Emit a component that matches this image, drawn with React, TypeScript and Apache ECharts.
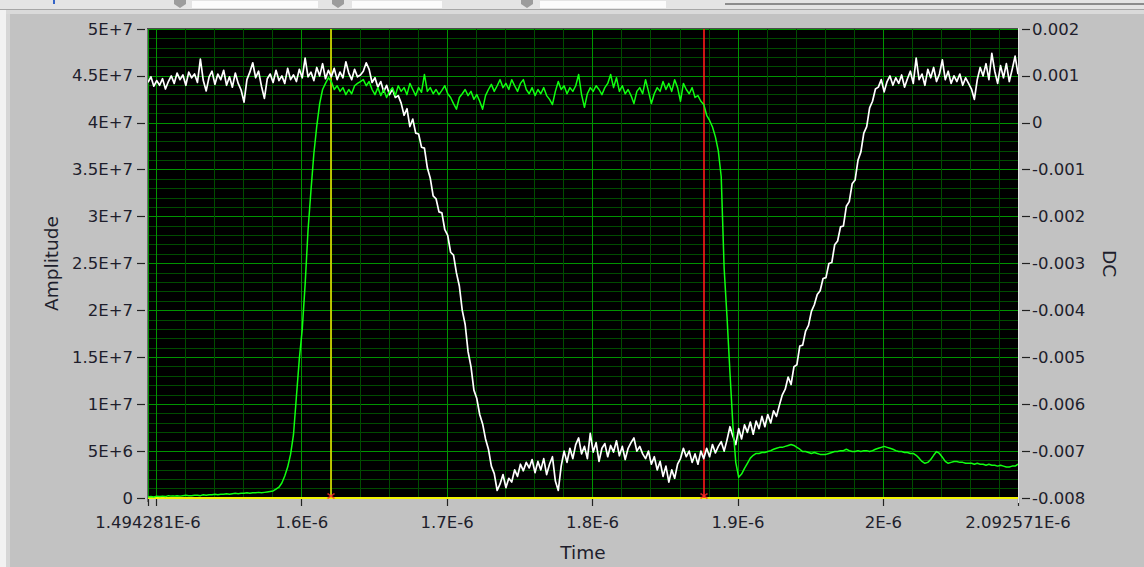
import { useEffect, useRef } from "react";
import * as echarts from "echarts";

// Waveform timing (seconds): first sample and sample spacing
const T0 = 1.494281e-6;
const DT = 2.001e-9;

// Visible time window
const TIME_MIN = 1.494281e-6;
const TIME_MAX = 2.092571e-6;

// Time scale: tick positions and labelled positions
const timeTicks = [1.494281e-6, 1.5e-6, 1.6e-6, 1.7e-6, 1.8e-6, 1.9e-6, 2e-6, 2.092571e-6];
const timeLabels = [1.494281e-6, 1.6e-6, 1.7e-6, 1.8e-6, 1.9e-6, 2e-6, 2.092571e-6];

// Amplitude trace, in units of 1E+6
const AMP_UNIT = 1e6;
const amplitude = [
  44.3, 44.9, 43.9, 44.5, 44.0, 44.7, 43.6, 44.4, 45.0, 44.2,
  45.3, 44.6, 45.1, 44.0, 45.4, 44.8, 45.2, 44.3, 46.8, 44.5,
  43.4, 44.9, 45.5, 44.1, 45.2, 44.6, 45.6, 44.0, 44.9, 43.8,
  45.3, 44.2, 43.5, 42.2, 44.6, 45.4, 46.4, 44.8, 45.5, 43.9,
  42.6, 44.7, 45.2, 44.3, 45.6, 44.5, 45.0, 44.2, 45.8, 44.6,
  45.1, 44.4, 45.7, 44.8, 46.9, 44.9, 45.4, 44.5, 45.9, 45.0,
  46.3, 44.7, 45.6, 44.9, 45.8, 44.6, 45.4, 44.8, 46.5, 45.3,
  44.6, 45.7, 44.9,
  45.1, 45.5, 46.4, 45.7, 44.3, 44.8, 43.8, 44.4, 43.3, 44.0,
  43.0, 43.6, 42.7, 42.9, 42.1, 40.8, 41.5, 39.6, 40.4, 38.9,
  38.8, 37.4, 37.3, 35.2, 34.1, 32.2, 31.9, 30.5, 30.4, 28.6,
  28.0, 26.2, 25.9, 24.0, 22.6, 20.0, 18.5, 15.6, 14.0, 11.5,
  10.6, 8.9, 7.9, 6.3, 5.2, 3.4, 2.6, 0.8,
  1.5, 2.5, 1.1, 2.1, 1.7, 3.0, 2.3, 3.6, 2.9, 3.8,
  3.2, 4.1, 2.7, 3.9, 3.0, 4.2, 2.5, 3.6, 4.4, 1.8,
  0.8, 3.4, 5.0, 3.8, 5.3, 4.2, 5.7, 6.4, 4.7, 5.5,
  4.2, 6.9, 4.9, 5.9, 3.9, 5.3, 5.8, 4.4, 5.6, 4.9,
  6.1, 4.5, 5.5, 4.1, 5.3, 5.9, 6.4, 5.0, 5.5, 4.7,
  4.2, 5.0, 3.6, 4.4, 3.0, 3.9, 2.3, 3.4, 1.7, 3.0,
  2.1, 3.6, 4.2, 5.3, 4.4, 5.0, 3.8, 4.7, 3.6, 5.0,
  4.2, 5.3, 4.4, 5.7, 4.8, 5.5, 6.0, 5.0, 6.2, 7.6,
  6.6, 5.7, 7.4, 6.3, 7.8, 7.0, 8.1, 6.8, 8.2, 7.4,
  8.7, 7.6, 8.9, 8.0, 9.3, 8.7, 9.9, 11.0, 11.6, 12.9,
  12.1, 14.0, 14.2, 16.2, 16.3, 17.8, 18.4, 19.9, 20.6, 21.7,
  22.1, 23.4, 23.5, 25.0, 25.1, 27.0, 27.4, 28.9, 29.0, 31.1,
  31.6, 33.5, 33.9, 36.0, 36.9, 38.9, 39.6, 41.6, 42.3, 43.6,
  43.8, 44.6, 43.3, 44.4, 45.0, 44.0, 44.8, 44.2, 45.1, 43.8,
  44.7, 45.5, 44.2, 46.9, 44.6, 45.2, 44.0, 45.7, 44.8, 45.9,
  44.4, 45.2, 46.7, 44.6, 45.5, 44.2, 45.0, 44.4, 45.2, 44.0,
  44.8, 44.2, 43.6, 42.5, 44.6, 45.9, 45.0, 46.3, 44.6, 47.4,
  45.5, 44.2, 46.1, 44.8, 46.3, 44.4, 45.7, 47.1, 45.2,
];

// DC trace, in millivolts
const DC_UNIT = 1e-3;
const dc = [
  -7.98, -7.97, -7.98, -7.96, -7.97, -7.96, -7.97, -7.95, -7.96, -7.96,
  -7.95, -7.96, -7.95, -7.94, -7.95, -7.95, -7.94, -7.94, -7.95, -7.93,
  -7.94, -7.93, -7.93, -7.92, -7.93, -7.92, -7.92, -7.91, -7.92, -7.91,
  -7.90, -7.91, -7.90, -7.90, -7.89, -7.90, -7.89, -7.89, -7.88, -7.89,
  -7.88, -7.87, -7.86,
  -7.85, -7.81, -7.77, -7.68, -7.53, -7.34, -7.07, -6.65, -5.84, -5.04,
  -4.41, -3.45, -2.29, -1.45, -0.66, -0.07, 0.41, 0.71, 0.84, 0.96,
  0.88, 0.71, 0.79,
  0.67, 0.75, 0.60, 0.71, 0.62, 0.79, 0.84, 0.88, 0.92, 0.79,
  0.88, 0.71, 0.60, 0.75, 0.58, 0.71, 0.54, 0.67, 0.75, 0.58,
  0.79, 0.67, 0.75, 0.60, 0.84, 0.71, 0.58, 0.75, 0.65, 1.03,
  0.67, 0.75, 0.62, 0.71, 0.60, 0.69, 0.79, 0.62, 0.54, 0.41,
  0.29, 0.54, 0.62, 0.71, 0.58, 0.67, 0.50, 0.60, 0.46, 0.29,
  0.58, 0.71, 0.82, 0.67, 0.79, 0.92, 0.75, 0.84, 0.71, 0.92,
  0.79, 0.67, 0.84, 0.92, 0.71, 0.62, 0.75, 0.58, 0.71, 0.62,
  0.75, 0.58, 0.50, 0.39, 0.67, 0.88, 0.71, 0.79, 0.62, 0.75,
  0.67, 0.79, 1.03, 0.60, 0.33, 0.62, 0.75, 0.67, 0.79, 0.71,
  0.60, 0.75, 0.84, 1.03, 0.75, 0.96, 0.67, 0.79, 0.62, 0.71,
  0.58, 0.41, 0.67, 0.75, 0.62, 0.92, 0.67, 0.41, 0.62, 0.75,
  0.67, 0.88, 0.71, 0.84, 0.67, 0.92, 0.75, 0.46, 0.84, 0.71,
  0.62, 0.75, 0.54, 0.58, 0.46, 0.39,
  0.16, 0.05, -0.09, -0.30, -0.60, -1.15, -3.10, -4.15, -5.32, -6.44,
  -7.24, -7.56, -7.49, -7.37, -7.26, -7.15, -7.09, -7.05, -7.05, -7.03,
  -7.03, -7.01, -6.99, -6.96, -6.94, -6.92, -6.92, -6.90, -6.88, -6.86,
  -6.88, -6.92, -6.96, -7.01, -7.01, -7.03, -7.05, -7.03, -7.05, -7.07,
  -7.07, -7.07, -7.05, -7.03, -7.01, -7.01, -6.99, -6.99, -6.96, -6.99,
  -7.01, -7.01, -6.99, -7.01, -6.99, -6.99, -7.01, -6.99, -6.96, -6.94,
  -6.92, -6.90, -6.92, -6.94, -6.96, -6.99, -7.01, -7.01, -7.03, -7.03,
  -7.05, -7.05, -7.09, -7.15, -7.22, -7.26, -7.24, -7.18, -7.09, -7.01,
  -7.05, -7.13, -7.22, -7.26, -7.24, -7.22, -7.22, -7.24, -7.24, -7.26,
  -7.26, -7.26, -7.28, -7.26, -7.28, -7.28, -7.30, -7.28, -7.30, -7.30,
  -7.32, -7.30, -7.32, -7.34, -7.34, -7.32, -7.32, -7.28,
];

// Cursor positions (seconds)
const cursorYellow = 1.62013e-6;
const cursorRed = 1.87664e-6;

const FONT = "DejaVu Sans";
const TEXT = "#1e1e2c";
const GRID_MAJOR = "#009400";
const GRID_MINOR = "#004c00";

const sci = (v: number) => (v === 0 ? "0" : v.toExponential().toUpperCase());
const plain = (v: number) => {
  const r = Math.round(v * 1e6) / 1e6;
  return r === 0 ? "0" : String(r);
};

export default function App() {
  const ref = useRef<HTMLDivElement>(null);

  useEffect(() => {
    if (!ref.current) return;
    const chart = echarts.init(ref.current, undefined, { renderer: "svg" });

    const ampData = amplitude.map((v, i) => [T0 + i * DT, v * AMP_UNIT]);
    const dcData = dc.map((v, i) => [T0 + i * DT, v * DC_UNIT]);

    const labelStyle = { color: TEXT, fontFamily: FONT, fontSize: 16.5 };
    const nameStyle = { color: TEXT, fontFamily: FONT, fontSize: 18.5 };

    chart.setOption({
      animation: false,
      backgroundColor: "#c2c2c2",
      textStyle: { fontFamily: FONT },
      grid: {
        left: 148,
        top: 29,
        right: 126,
        bottom: 65,
        show: true,
        backgroundColor: "#000000",
        borderWidth: 0,
      },
      xAxis: {
        type: "value",
        min: TIME_MIN,
        max: TIME_MAX,
        offset: 6,
        name: "Time",
        nameLocation: "middle",
        nameGap: 39,
        nameTextStyle: nameStyle,
        axisLine: { show: false },
        axisTick: {
          show: true,
          length: 8,
          customValues: timeTicks,
          lineStyle: { color: "#222", width: 1.2 },
        },
        axisLabel: {
          ...labelStyle,
          margin: 10,
          customValues: timeLabels,
          showMinLabel: true,
          showMaxLabel: true,
          formatter: (v: number) => sci(v),
        },
        splitLine: { show: true, lineStyle: { color: GRID_MAJOR, width: 1 } },
        minorTick: { show: false, splitNumber: 5 },
        minorSplitLine: { show: true, lineStyle: { color: GRID_MINOR, width: 1 } },
      },
      yAxis: [
        {
          type: "value",
          min: 0,
          max: 5e7,
          interval: 5e6,
          position: "left",
          offset: 3,
          name: "Amplitude",
          nameLocation: "middle",
          nameRotate: 90,
          nameGap: 80,
          nameTextStyle: nameStyle,
          axisLine: { show: false },
          axisTick: { show: true, length: 8, lineStyle: { color: "#222", width: 1.2 } },
          axisLabel: { ...labelStyle, margin: 12, formatter: (v: number) => sci(v) },
          splitLine: { show: true, lineStyle: { color: GRID_MAJOR, width: 1 } },
          minorTick: { show: false, splitNumber: 5 },
          minorSplitLine: { show: true, lineStyle: { color: GRID_MINOR, width: 1 } },
        },
        {
          type: "value",
          min: -0.008,
          max: 0.002,
          interval: 0.001,
          position: "right",
          offset: 4,
          name: "DC",
          nameLocation: "middle",
          nameRotate: -90,
          nameGap: 78,
          nameTextStyle: nameStyle,
          axisLine: { show: false },
          axisTick: { show: true, length: 8, lineStyle: { color: "#222", width: 1.2 } },
          axisLabel: { ...labelStyle, margin: 10, formatter: (v: number) => plain(v) },
          splitLine: { show: false },
        },
      ],
      series: [
        {
          name: "Amplitude",
          type: "line",
          yAxisIndex: 0,
          data: ampData,
          showSymbol: false,
          symbol: "none",
          z: 3,
          lineStyle: { color: "#ffffff", width: 1.7, join: "round" },
        },
        {
          name: "DC",
          type: "line",
          yAxisIndex: 1,
          data: dcData,
          showSymbol: false,
          symbol: "none",
          z: 4,
          lineStyle: { color: "#10ff10", width: 1.5, join: "round" },
        },
        {
          name: "Cursors",
          type: "scatter",
          yAxisIndex: 0,
          data: [
            [cursorYellow, 0],
            [cursorRed, 0],
          ],
          symbol: "path://M0,0L10,8M10,0L0,8",
          symbolSize: [7, 5],
          symbolOffset: [0, -2],
          clip: false,
          silent: true,
          z: 6,
          itemStyle: { color: "rgba(0,0,0,0)", borderColor: "#ff2a2a", borderWidth: 1.5 },
          markLine: {
            silent: true,
            symbol: ["none", "none"],
            label: { show: false },
            precision: 12,
            z: 2,
            data: [
              { yAxis: 0, lineStyle: { color: "#f2f200", width: 2.2, type: "solid" } },
              { xAxis: cursorYellow, lineStyle: { color: "#e8e800", width: 1.6, type: "solid" } },
              { xAxis: cursorRed, lineStyle: { color: "#ff1a1a", width: 1.6, type: "solid" } },
            ],
          },
        },
      ],
      graphic: [
        // window strip along the top
        { type: "rect", shape: { x: 0, y: 0, width: 1144, height: 9 }, style: { fill: "#e4e4e4" } },
        { type: "rect", shape: { x: 192, y: 1, width: 126, height: 7 }, style: { fill: "#fbfbfb" } },
        { type: "rect", shape: { x: 352, y: 1, width: 90, height: 7 }, style: { fill: "#fbfbfb" } },
        { type: "rect", shape: { x: 540, y: 1, width: 126, height: 7 }, style: { fill: "#fbfbfb" } },
        { type: "polygon", shape: { points: [[174, 0], [186, 0], [186, 4], [180, 8], [174, 4]] }, style: { fill: "#9c9c9c" } },
        { type: "polygon", shape: { points: [[332, 0], [344, 0], [344, 4], [338, 8], [332, 4]] }, style: { fill: "#9c9c9c" } },
        { type: "polygon", shape: { points: [[521, 0], [533, 0], [533, 4], [527, 8], [521, 4]] }, style: { fill: "#9c9c9c" } },
        { type: "line", shape: { x1: 725, y1: 4, x2: 1144, y2: 4 }, style: { stroke: "#8c8c8c", lineWidth: 2 } },
        { type: "line", shape: { x1: 54, y1: 0, x2: 54, y2: 4 }, style: { stroke: "#3464c8", lineWidth: 2 } },
        { type: "rect", shape: { x: 0, y: 9, width: 1144, height: 1 }, style: { fill: "#a6a6a6" } },
        { type: "rect", shape: { x: 0, y: 10, width: 1144, height: 4 }, style: { fill: "#dadada" } },
        // light strip on the left edge
        { type: "rect", shape: { x: 0, y: 10, width: 6, height: 557 }, style: { fill: "#f2f2f2" } },
        { type: "rect", shape: { x: 6, y: 14, width: 4, height: 553 }, style: { fill: "#d6d6d6" } },
        // plot frame
        { type: "line", z: 10, shape: { x1: 147.5, y1: 28, x2: 147.5, y2: 502 }, style: { stroke: "#6e6e6e", lineWidth: 1 } },
        { type: "line", z: 10, shape: { x1: 147, y1: 28.5, x2: 1018, y2: 28.5 }, style: { stroke: "#4a4a4a", lineWidth: 1 } },
        { type: "line", z: 10, shape: { x1: 1018.5, y1: 28, x2: 1018.5, y2: 503 }, style: { stroke: "#e2e2e2", lineWidth: 1 } },
      ],
    });

    return () => chart.dispose();
  }, []);

  return (
    <div
      ref={ref}
      style={{ position: "fixed", left: 0, top: 0, width: 1144, height: 567 }}
    />
  );
}
